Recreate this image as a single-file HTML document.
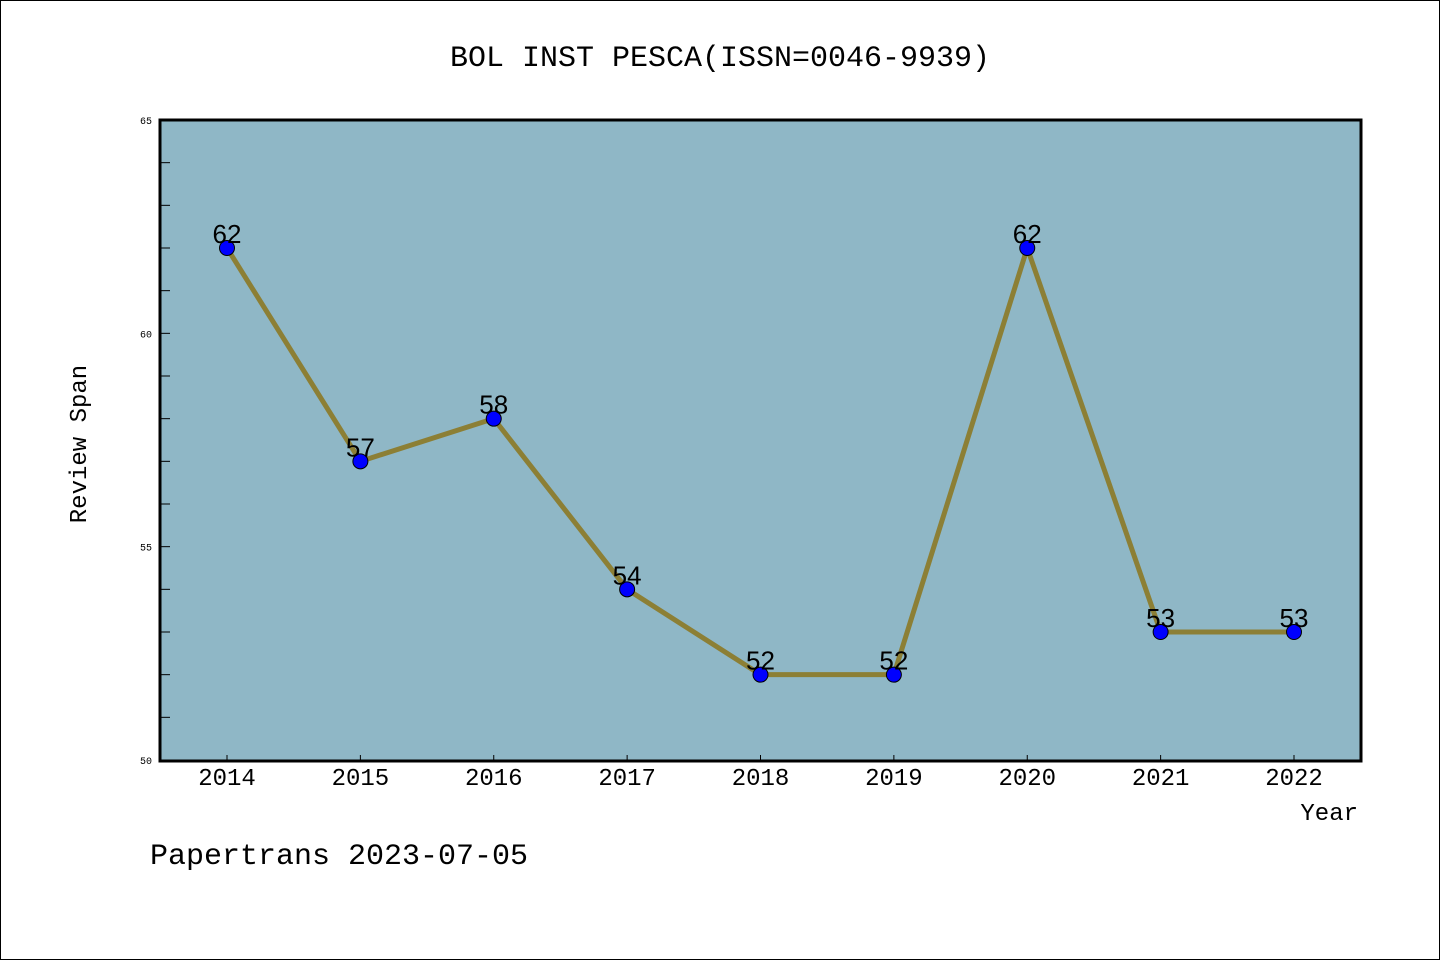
<!DOCTYPE html>
<html><head><meta charset="utf-8"><style>
html,body{margin:0;padding:0;background:#fff}
svg{display:block;font-family:"Liberation Mono","DejaVu Sans Mono",monospace}
</style></head><body>
<svg id="chart" width="1440" height="960" viewBox="0 0 1440 960">
<rect x="0.5" y="0.5" width="1439" height="959" fill="#fff" stroke="#000" stroke-width="1"/>
<text x="720" y="66" text-anchor="middle" font-size="30" fill="#000">BOL INST PESCA(ISSN=0046-9939)</text>
<rect x="160" y="120" width="1201" height="641" fill="#8fb7c6"/>
<g id="axes"></g>
<g id="series"></g>
<rect x="160" y="120" width="1201" height="641" fill="none" stroke="#000" stroke-width="3"/>
<text x="86" y="444" text-anchor="middle" font-size="24" transform="rotate(-90 86 444)">Review Span</text>
<text x="1358" y="820" text-anchor="end" font-size="24">Year</text>
<text x="150" y="864" font-size="30">Papertrans 2023-07-05</text>
</svg>
<script>
const years = [2014,2015,2016,2017,2018,2019,2020,2021,2022];
const values = [62,57,58,54,52,52,62,53,53];
const yTicks = [50,55,60,65];
const NS = "http://www.w3.org/2000/svg";
const x0 = 227, x1 = 1294, yTop = 120, yBot = 760, yMin = 50, yMax = 65;
function xs(i){ return x0 + (x1 - x0) * i / (years.length - 1); }
function ys(v){ return yBot - (v - yMin) / (yMax - yMin) * (yBot - yTop); }
function mk(tag, attrs, parent){ const e = document.createElementNS(NS, tag); for (const k in attrs) e.setAttribute(k, attrs[k]); parent.appendChild(e); return e; }
const axes = document.getElementById("axes");
const series = document.getElementById("series");
for (let v = yMin + 1; v < yMax; v++) {
  const t = mk("line", {x1:160, x2:170, y1:ys(v), y2:ys(v), stroke:"#000", "stroke-width":1}, axes);
  
  
}
yTicks.forEach(v => {
  const t = mk("text", {x:152, y:ys(v)+4, "text-anchor":"end", "font-size":10}, axes);
  t.textContent = v;
  
  
});
years.forEach((yr, i) => {
  const tk = mk("line", {x1:xs(i), x2:xs(i), y1:755, y2:760, stroke:"#000", "stroke-width":1}, axes);
  
  
  const t = mk("text", {x:xs(i), y:785, "text-anchor":"middle", "font-size":24}, axes);
  t.textContent = yr;
  
  
});
const line = mk("polyline", {points: values.map((v,i)=>xs(i)+","+ys(v)).join(" "), fill:"none", stroke:"#8c7f35", "stroke-width":5, "stroke-linejoin":"round"}, series);


values.forEach((v, i) => {
  const c = mk("circle", {cx:xs(i), cy:ys(v), r:7.5, fill:"#0000ff", stroke:"#000", "stroke-width":1}, series);
  
  
  const t = mk("text", {x:xs(i), y:ys(v)-5, "text-anchor":"middle", "font-size":26, "font-family":"Liberation Sans, sans-serif"}, series);
  t.textContent = v;
  
  
});
</script>
</body></html>
